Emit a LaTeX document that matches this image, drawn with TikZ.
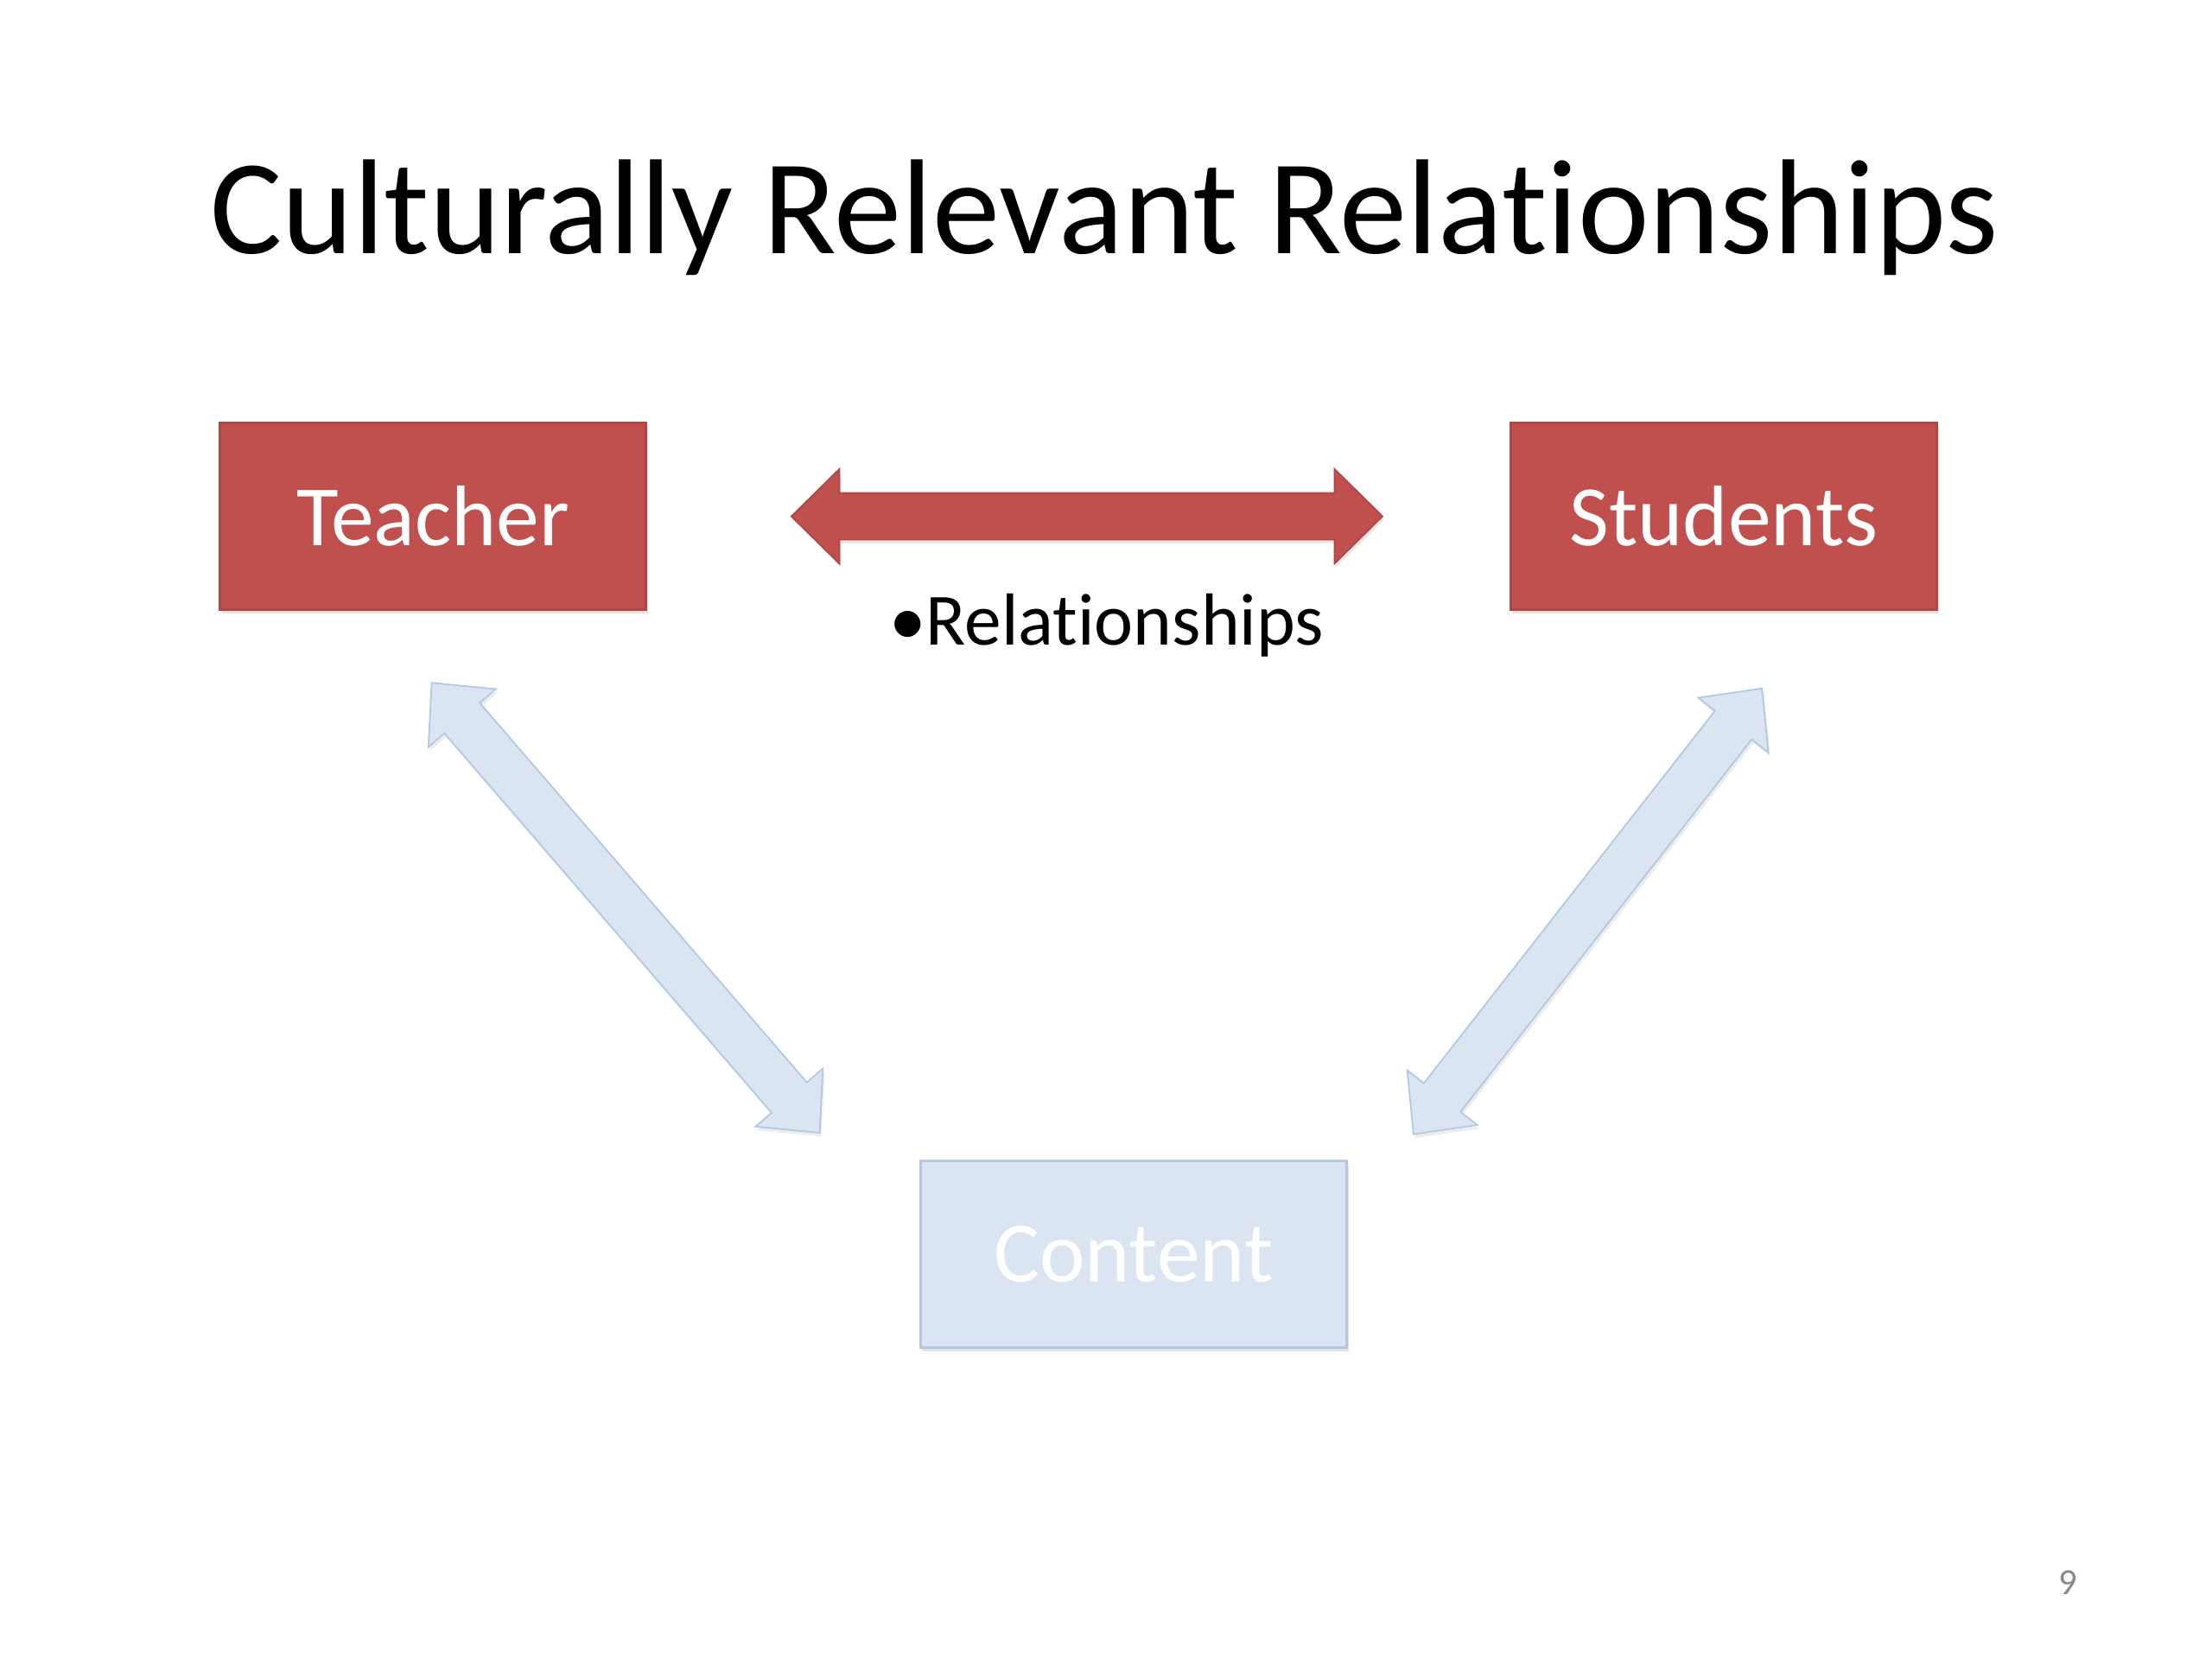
\documentclass[tikz,border=0pt]{standalone}
\usepackage{fontspec}
\setmainfont{Carlito}[Ligatures={NoCommon,NoRequired,NoContextual}]
\usetikzlibrary{calc,shadows}
\definecolor{slideRed}{HTML}{C0504D}
\definecolor{slideRedEdge}{HTML}{B04744}
\definecolor{slideIce}{HTML}{DBE5F1}
\definecolor{slideIceEdge}{HTML}{B3C8E2}
\definecolor{slideGrey}{HTML}{8A8A8A}
% one slide pixel
\newcommand{\pxu}{0.459184pt}
% block arrow with two heads: style, from, to, half shaft, half head, head length
\newcommand{\blockarrow}[6]{%
  \filldraw[#1] (#2)
    -- ($(#2)!#6*\pxu!(#3)!#5*\pxu!90:(#3)$)
    -- ($(#2)!#6*\pxu!(#3)!#4*\pxu!90:(#3)$)
    -- ($(#3)!#6*\pxu!(#2)!#4*\pxu!-90:(#2)$)
    -- ($(#3)!#6*\pxu!(#2)!#5*\pxu!-90:(#2)$)
    -- (#3)
    -- ($(#3)!#6*\pxu!(#2)!#5*\pxu!90:(#2)$)
    -- ($(#3)!#6*\pxu!(#2)!#4*\pxu!90:(#2)$)
    -- ($(#2)!#6*\pxu!(#3)!#4*\pxu!-90:(#3)$)
    -- ($(#2)!#6*\pxu!(#3)!#5*\pxu!-90:(#3)$)
    -- cycle;}

\begin{document}
\begin{tikzpicture}[x=\pxu,y=-\pxu,
    slidebox/.style={rectangle,minimum width=138.7pt,minimum height=60.6pt,
      line width=0.75pt,text=white,font=\fontsize{28}{34}\selectfont,
      drop shadow={shadow xshift=0.6pt,shadow yshift=-1.4pt,opacity=0.22}},
    redbox/.style={slidebox,fill=slideRed,draw=slideRedEdge},
    icebox/.style={slidebox,fill=slideIce,draw=slideIceEdge},
    redarrow/.style={fill=slideRed,draw=slideRedEdge,line width=0.5pt,
      drop shadow={shadow xshift=0.5pt,shadow yshift=-1.2pt,opacity=0.18}},
    icearrow/.style={fill=slideIce,draw=slideIceEdge,line width=0.5pt,
      drop shadow={shadow xshift=0.6pt,shadow yshift=-1.2pt,opacity=0.15}}]
  \fill[white] (0,0) rectangle (1568,1176);
  \useasboundingbox (0,0) rectangle (1568,1176);

  \node[anchor=base,font=\fontsize{44}{53}\selectfont] (title) at (783,180)
    {Culturally Relevant Relationships};

  \node[redbox] (teacher) at (307,366) {Teacher};
  \node[redbox] (students) at (1222,366) {Students};
  \node[icebox] (content) at (803.5,889) {Content};

  % arrow ends
  \coordinate (relL) at (561,366);
  \coordinate (relR) at (980,366);
  \coordinate (tchTip) at (306,484);
  \coordinate (cntL) at (581,803);
  \coordinate (stuTip) at (1249,488);
  \coordinate (cntR) at (1002,804);

  \blockarrow{redarrow}{relL}{relR}{16.5}{33.5}{34}
  \blockarrow{icearrow}{tchTip}{cntL}{16.5}{31.5}{33}
  \blockarrow{icearrow}{stuTip}{cntR}{16.5}{31.5}{33}

  \node[anchor=base west,inner sep=0pt,font=\fontsize{24}{29}\selectfont] (rel)
    at (630,457) {•Relationships};

  \node[text=slideGrey,font=\fontsize{12}{14}\selectfont] (page) at (1466,1122) {9};
\end{tikzpicture}
\end{document}
